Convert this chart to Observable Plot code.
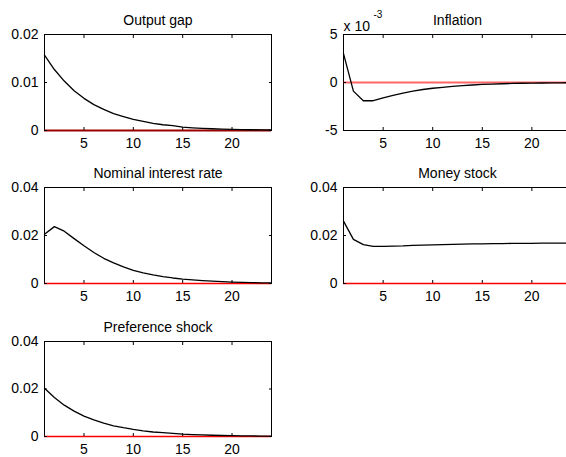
<!DOCTYPE html>
<html><head><meta charset="utf-8">
<script src="https://cdn.jsdelivr.net/npm/d3@7"></script>
<script src="https://cdn.jsdelivr.net/npm/@observablehq/plot@0.6"></script>
<style>
html,body{margin:0;padding:0;background:#fff;}
#wrap{position:relative;width:566px;height:457px;overflow:hidden;background:#fff;}
#wrap svg{position:absolute;overflow:visible;}
</style></head><body><div id="wrap"></div>
<script>
// ---- data ----
const periods = [1,2,3,4,5,6,7,8,9,10,11,12,13,14,15,16,17,18,19,20,21,22,23,24];
const outputGap = [0.0157,0.0127,0.0103,0.0083,0.0067,0.0054,0.0044,0.0035,0.0029,0.0023,0.0019,0.0015,0.0012,0.0010,0.0007,0.00056,0.00045,0.00036,0.0003,0.00025,0.0002,0.00016,0.00013,0.0001];
const inflation = [0.0030,-0.0009,-0.0019,-0.0019,-0.0016,-0.00135,-0.0011,-0.0009,-0.00073,-0.0006,-0.0005,-0.0004,-0.00032,-0.00026,-0.0002,-0.00016,-0.00013,-0.0001,-0.00008,-0.00006,-0.00005,-0.00004,-0.00003,-0.00002];
const interestRate = [0.0205,0.0237,0.0218,0.0187,0.0157,0.0129,0.0105,0.0086,0.0069,0.0055,0.0044,0.0036,0.0029,0.0023,0.0018,0.0015,0.0012,0.00095,0.00075,0.0006,0.00048,0.00038,0.0003,0.00024];
const moneyStock = [0.0260,0.0184,0.0162,0.0155,0.0155,0.0156,0.0157,0.0159,0.0160,0.0161,0.0162,0.0163,0.0164,0.0165,0.0165,0.0166,0.0166,0.0167,0.0167,0.0167,0.0168,0.0168,0.0168,0.0168];
const preferenceShock = [0.0203,0.0164,0.0132,0.0107,0.0086,0.0070,0.0056,0.0045,0.0037,0.0030,0.0024,0.0019,0.0016,0.0013,0.0010,0.0008,0.00066,0.00053,0.00043,0.00035,0.00028,0.00023,0.00018,0.00015];

const titles = ["Output gap","Inflation","Nominal interest rate","Money stock","Preference shock"];
const xTicks = [5,10,15,20];
const xTickLabels = ["5","10","15","20"];
const yTicksGap = [0,0.01,0.02];
const yTickLabelsGap = ["0","0.01","0.02"];
const yTicksInfl = [-0.005,0,0.005];
const yTickLabelsInfl = ["-5","0","5"];
const yTicks04 = [0,0.02,0.04];
const yTickLabels04 = ["0","0.02","0.04"];
const exponentBase = "x 10";
const exponentPower = "-3";

const FONT = "'Liberation Sans', Arial, Helvetica, sans-serif";

function panel(opts) {
  const {series, title, yDomain, yTicks, yLabels, left, top, width, height, mL, mR, mT, mB, zeroStroke, zeroWidth, zeroOpacity, exponent} = opts;
  const data = periods.map((p, i) => ({t: p, v: series[i]}));
  const fmtY = d => yLabels[yTicks.indexOf(d)];
  const fmtX = d => xTickLabels[xTicks.indexOf(d)];
  const marks = [
    Plot.frame({stroke: "black", strokeWidth: 1}),
    Plot.ruleY([0], {stroke: zeroStroke, strokeWidth: zeroWidth, strokeOpacity: zeroOpacity}),
    Plot.line(data, {x: "t", y: "v", stroke: "black", strokeWidth: 1.3}),
    Plot.axisX({anchor: "bottom", ticks: xTicks, tickSize: 0, tickPadding: 8, tickFormat: fmtX, label: null, fontSize: 14, letterSpacing: 1}),
    Plot.axisX({anchor: "bottom", ticks: xTicks, tickSize: -3, tickFormat: () => "", label: null}),
    Plot.axisX({anchor: "top", ticks: xTicks, tickSize: -3, tickFormat: () => "", label: null}),
    Plot.axisY({anchor: "left", ticks: yTicks, tickSize: 0, tickPadding: 6, tickFormat: fmtY, label: null, fontSize: 14, letterSpacing: 1}),
    Plot.axisY({anchor: "left", ticks: yTicks, tickSize: -3, tickFormat: () => "", label: null}),
    Plot.axisY({anchor: "right", ticks: yTicks, tickSize: -3, tickFormat: () => "", label: null}),
    Plot.text([title], {frameAnchor: "top", dy: -19, fontSize: 14, letterSpacing: 0.6, fill: "black"})
  ];
  if (exponent) {
    marks.push(Plot.text([exponentBase], {frameAnchor: "top-left", textAnchor: "start", dy: -13, fontSize: 14, letterSpacing: 0.6, fill: "black"}));
    marks.push(Plot.text([exponentPower], {frameAnchor: "top-left", textAnchor: "start", dx: 30, dy: -24, fontSize: 10, fill: "black"}));
  }
  const svg = Plot.plot({
    width, height,
    marginLeft: mL, marginRight: mR, marginTop: mT, marginBottom: mB,
    x: {domain: [1, 24], axis: null},
    y: {domain: yDomain, axis: null},
    style: {fontFamily: FONT, fontSize: "14px", background: "transparent", overflow: "visible", color: "black"},
    marks
  });
  svg.style.left = left + "px";
  svg.style.top = top + "px";
  document.getElementById("wrap").appendChild(svg);
}

// left column frame 44..271, right column frame 343..571 (clipped)
const L = {left: 0, width: 283, mL: 44, mR: 12};
const R = {left: 283, width: 288, mL: 60, mR: 0};
const row1 = {top: 0, height: 150, mT: 34, mB: 20};
const row2 = {top: 150, height: 150, mT: 37, mB: 17};
const row3 = {top: 300, height: 157, mT: 41, mB: 21};

panel({...L, ...row1, series: outputGap, title: titles[0], yDomain: [0, 0.02], yTicks: yTicksGap, yLabels: yTickLabelsGap, zeroStroke: "#9a0000", zeroWidth: 2, zeroOpacity: 1});
panel({...R, ...row1, series: inflation, title: titles[1], yDomain: [-0.005, 0.005], yTicks: yTicksInfl, yLabels: yTickLabelsInfl, zeroStroke: "red", zeroWidth: 2, zeroOpacity: 0.6, exponent: true});
panel({...L, ...row2, series: interestRate, title: titles[2], yDomain: [0, 0.04], yTicks: yTicks04, yLabels: yTickLabels04, zeroStroke: "red", zeroWidth: 1.5, zeroOpacity: 1});
panel({...R, ...row2, series: moneyStock, title: titles[3], yDomain: [0, 0.04], yTicks: yTicks04, yLabels: yTickLabels04, zeroStroke: "red", zeroWidth: 1.5, zeroOpacity: 1});
panel({...L, ...row3, series: preferenceShock, title: titles[4], yDomain: [0, 0.04], yTicks: yTicks04, yLabels: yTickLabels04, zeroStroke: "red", zeroWidth: 1.5, zeroOpacity: 1});
</script></body></html>
